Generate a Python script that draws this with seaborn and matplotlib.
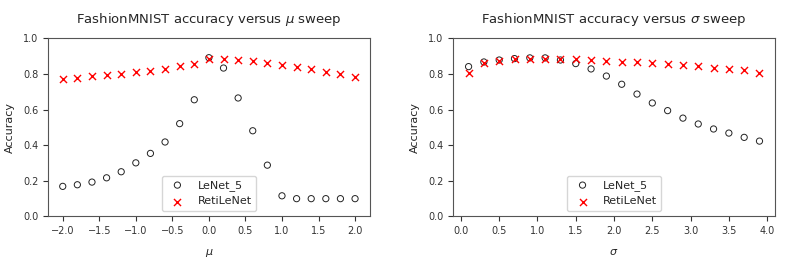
import numpy as np
import pandas as pd
import seaborn as sns
import matplotlib.pyplot as plt

mu = [-2.0, -1.8, -1.6, -1.4, -1.2, -1.0, -0.8, -0.6, -0.4, -0.2, 0.0,
      0.2, 0.4, 0.6, 0.8, 1.0, 1.2, 1.4, 1.6, 1.8, 2.0]
lenet_mu = [0.169, 0.178, 0.193, 0.217, 0.251, 0.301, 0.354, 0.418, 0.521, 0.655, 0.891,
            0.833, 0.665, 0.481, 0.288, 0.116, 0.100, 0.100, 0.100, 0.100, 0.100]
reti_mu = [0.773, 0.777, 0.787, 0.794, 0.801, 0.809, 0.816, 0.828, 0.843, 0.858, 0.886,
           0.884, 0.878, 0.871, 0.860, 0.850, 0.839, 0.828, 0.811, 0.798, 0.783]

sigma = [0.1, 0.3, 0.5, 0.7, 0.9, 1.1, 1.3, 1.5, 1.7, 1.9,
         2.1, 2.3, 2.5, 2.7, 2.9, 3.1, 3.3, 3.5, 3.7, 3.9]
lenet_sigma = [0.841, 0.867, 0.878, 0.886, 0.890, 0.890, 0.878, 0.858, 0.828, 0.788,
               0.742, 0.687, 0.637, 0.594, 0.552, 0.519, 0.491, 0.468, 0.444, 0.423]
reti_sigma = [0.807, 0.860, 0.875, 0.884, 0.884, 0.886, 0.886, 0.882, 0.876, 0.875,
              0.869, 0.867, 0.863, 0.858, 0.850, 0.843, 0.835, 0.828, 0.820, 0.807]

sns.set_style("ticks")
plt.rcParams['font.family'] = ['DejaVu Sans']

def sweep_plot(ax, x, lenet, reti, sym, xticks):
    sns.scatterplot(x=x, y=lenet, ax=ax, marker="o", s=20, facecolor="none",
                    edgecolor="#222222", linewidth=0.7, label="LeNet_5")
    sns.scatterplot(x=x, y=reti, ax=ax, marker="x", s=26, color="red",
                    linewidth=1.0, label="RetiLeNet")
    ax.set_title("FashionMNIST accuracy versus $\\%s$ sweep" % sym, fontsize=9.5, pad=11)
    ax.set_xlabel("$\\%s$" % sym, fontsize=8, labelpad=8)
    ax.set_ylabel("Accuracy", fontsize=8, labelpad=6)
    ax.set_ylim(0, 1.0)
    ax.set_xticks(xticks)
    ax.tick_params(labelsize=7, colors="#333333")
    for sp in ax.spines.values():
        sp.set_color("#555555")
    ax.legend(loc="lower center", fontsize=8)

fig, axes = plt.subplots(1, 2, figsize=(7.89, 2.64), dpi=100)
sweep_plot(axes[0], mu, lenet_mu, reti_mu, "mu", np.arange(-2.0, 2.01, 0.5))
sweep_plot(axes[1], sigma, lenet_sigma, reti_sigma, "sigma", np.arange(0.0, 4.01, 0.5))
axes[0].set_xlim(-2.2, 2.2)
axes[1].set_xlim(-0.1, 4.1)

fig.subplots_adjust(left=0.061, right=0.982, bottom=0.18, top=0.855, wspace=0.26)
fig.savefig("out.png")
